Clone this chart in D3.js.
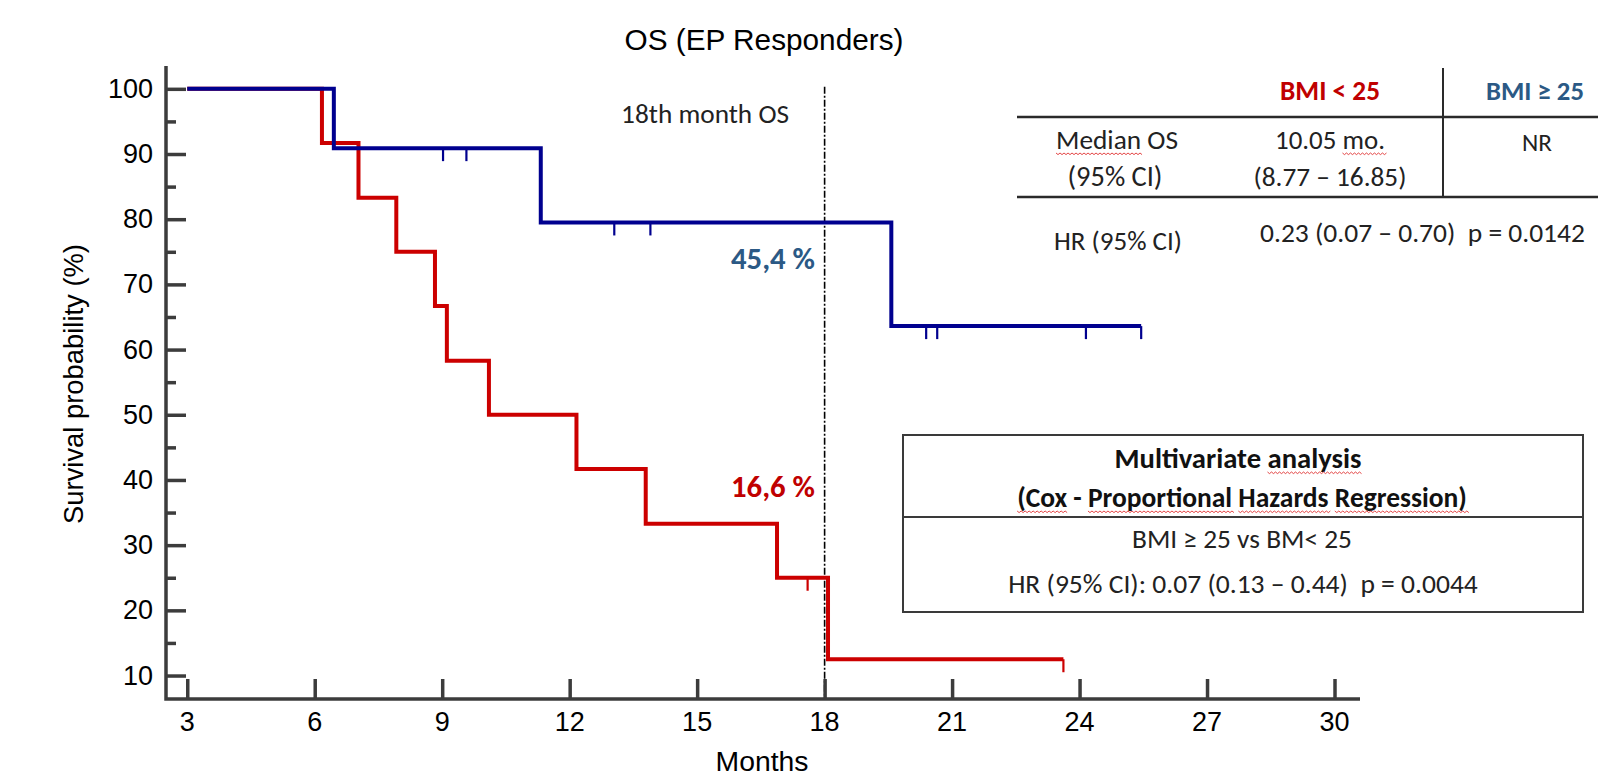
<!DOCTYPE html>
<html>
<head>
<meta charset="utf-8">
<script src="https://cdn.jsdelivr.net/npm/d3@7"></script>
<style>
  body { margin: 0; background: #fff; }
  text { white-space: pre; }
  .axis-font { font-family: "Liberation Sans", Arial, sans-serif; }
  .cal { font-family: Carlito, Lato, "Open Sans", sans-serif; }
</style>
</head>
<body>
<div id="chart"></div>
<script>
// Kaplan-Meier steps (month, survival %)
var lowMonths  = [3, 6.17, 7.03, 7.92, 8.83, 9.11, 10.1, 12.16, 13.79, 16.88, 18.08, 23.62];
var lowSurv    = [100, 91.7, 83.3, 75, 66.7, 58.3, 50, 41.7, 33.3, 25, 12.5, 12.5];
var lowCensor  = [17.6, 23.62];

var highMonths = [3, 6.45, 11.32, 19.57, 25.45];
var highSurv   = [100, 90.9, 79.5, 63.6, 63.6];
var highCensor = [9.02, 9.57, 13.05, 13.9, 20.39, 20.65, 24.15, 25.45];

var xTicks = [3, 6, 9, 12, 15, 18, 21, 24, 27, 30];
var yTicks = [10, 20, 30, 40, 50, 60, 70, 80, 90, 100];
var yMinor = [15, 25, 35, 45, 55, 65, 75, 85, 95];

var w = 1598, h = 778;
var red = "#cc0000", navy = "#00008f";
var axisCol = "#3c3c3c";

var svg = d3.select("#chart").append("svg")
    .attr("width", w)
    .attr("height", h);

var x = d3.scaleLinear().domain([2.5, 30.6]).range([166, 1360]);
var y = d3.scaleLinear().domain([6.4, 103.5]).range([699, 66]);

// scale a text's font so it spans the given width
function fit(sel, target) {
    var len = sel.node().getComputedTextLength();
    sel.attr("font-size", +sel.attr("font-size") * target / len);
    return sel;
}

// title
fit(svg.append("text")
    .attr("class", "axis-font")
    .attr("x", 764).attr("y", 50)
    .attr("text-anchor", "middle")
    .attr("font-size", 28)
    .text("OS (EP Responders)"), 279);

// 18th month reference line
svg.append("line")
    .attr("x1", x(18)).attr("x2", x(18))
    .attr("y1", y(100.3)).attr("y2", y(6.4))
    .attr("stroke", "#000")
    .attr("stroke-width", 1.6)
    .attr("stroke-dasharray", "7,2,2,2");

fit(svg.append("text")
    .attr("class", "cal")
    .attr("x", 789).attr("y", 123)
    .attr("text-anchor", "end")
    .attr("font-size", 26)
    .attr("fill", "#222")
    .text("18th month OS"), 168);

// curves
var stepLine = d3.line()
    .x(function(d) { return x(d[0]); })
    .y(function(d) { return y(d[1]); })
    .curve(d3.curveStepAfter);

function survAt(months, surv, t) {
    var i = d3.bisectRight(months, t) - 1;
    return surv[Math.max(0, i)];
}

function drawCurve(months, surv, censor, color) {
    svg.append("path")
        .datum(d3.zip(months, surv))
        .attr("d", stepLine)
        .attr("fill", "none")
        .attr("stroke", color)
        .attr("stroke-width", 4);

    svg.append("g").selectAll("line")
        .data(censor)
        .enter()
        .append("line")
        .attr("x1", function(d) { return x(d); })
        .attr("x2", function(d) { return x(d); })
        .attr("y1", function(d) { return y(survAt(months, surv, d)); })
        .attr("y2", function(d) { return y(survAt(months, surv, d)) + 13; })
        .attr("stroke", color)
        .attr("stroke-width", 2.2);
}

drawCurve(lowMonths, lowSurv, lowCensor, red);
drawCurve(highMonths, highSurv, highCensor, navy);

// axes
var yAxis = svg.append("g")
    .attr("transform", "translate(" + x(2.5) + ",0)")
    .call(d3.axisRight(y).tickValues(yTicks).tickSize(20).tickFormat(""));
var yMinorAxis = svg.append("g")
    .attr("transform", "translate(" + x(2.5) + ",0)")
    .call(d3.axisRight(y).tickValues(yMinor).tickSize(10).tickFormat(""));
var xAxis = svg.append("g")
    .attr("transform", "translate(0," + y(6.4) + ")")
    .call(d3.axisTop(x).tickValues(xTicks).tickSize(20).tickFormat(""));

[yAxis, yMinorAxis, xAxis].forEach(function(g) {
    g.selectAll(".domain").remove();
    g.selectAll(".tick line").attr("stroke", axisCol).attr("stroke-width", 3.5);
});

svg.append("path")
    .attr("d", "M" + x(2.5) + "," + y(103.5) + "V" + y(6.4) + "H" + x(30.6))
    .attr("fill", "none")
    .attr("stroke", axisCol)
    .attr("stroke-width", 3.5);

// tick labels
svg.append("g").selectAll("text")
    .data(yTicks)
    .enter()
    .append("text")
    .attr("class", "axis-font")
    .attr("x", 153)
    .attr("y", function(d) { return y(d); })
    .attr("text-anchor", "end")
    .attr("dominant-baseline", "central")
    .attr("font-size", 27)
    .text(function(d) { return d; });

svg.append("g").selectAll("text")
    .data(xTicks)
    .enter()
    .append("text")
    .attr("class", "axis-font")
    .attr("x", function(d) { return x(d); })
    .attr("y", 722)
    .attr("text-anchor", "middle")
    .attr("dominant-baseline", "central")
    .attr("font-size", 27)
    .text(function(d) { return d; });

fit(svg.append("text")
    .attr("class", "axis-font")
    .attr("x", 762).attr("y", 771)
    .attr("text-anchor", "middle")
    .attr("font-size", 28)
    .text("Months"), 93);

fit(svg.append("text")
    .attr("class", "axis-font")
    .attr("transform", "translate(73,384) rotate(-90)")
    .attr("text-anchor", "middle")
    .attr("dominant-baseline", "central")
    .attr("font-size", 28)
    .text("Survival probability (%)"), 280);

// 18-month survival labels
fit(svg.append("text")
    .attr("class", "cal")
    .attr("x", 815).attr("y", 258)
    .attr("text-anchor", "end")
    .attr("dominant-baseline", "central")
    .attr("font-size", 28).attr("font-weight", "bold")
    .attr("fill", "#2b5985")
    .text("45,4 %"), 84);

fit(svg.append("text")
    .attr("class", "cal")
    .attr("x", 815).attr("y", 486)
    .attr("text-anchor", "end")
    .attr("dominant-baseline", "central")
    .attr("font-size", 28).attr("font-weight", "bold")
    .attr("fill", "#c00000")
    .text("16,6 %"), 84);

// spell-check squiggle under part of a text
function squiggle(textSel, sub) {
    var node = textSel.node();
    var full = node.textContent;
    var i = full.indexOf(sub);
    if (i < 0) return;
    var start = node.getStartPositionOfChar(i).x;
    var end = node.getEndPositionOfChar(i + sub.length - 1).x;
    var yy = +textSel.attr("y") + 4;
    var p = "M" + start + "," + yy;
    for (var xx = start, k = 0; xx < end; xx += 2, k++) {
        p += "L" + (xx + 2) + "," + (yy + (k % 2 ? 0 : 1.6));
    }
    svg.append("path").attr("d", p).attr("fill", "none")
        .attr("stroke", "#e03030").attr("stroke-width", 0.9);
}

function cell(tx, ty, str, width, opts) {
    opts = opts || {};
    var t = svg.append("text")
        .attr("class", "cal")
        .attr("x", tx).attr("y", ty)
        .attr("text-anchor", opts.anchor || "middle")
        .attr("font-size", 26)
        .attr("font-weight", opts.bold ? "bold" : null)
        .attr("fill", opts.fill || "#222")
        .text(str);
    return fit(t, width);
}

// median OS table
var tbl = svg.append("g").attr("stroke", "#2a2a2a");
tbl.append("line").attr("x1", 1443).attr("x2", 1443).attr("y1", 68).attr("y2", 197).attr("stroke-width", 2);
tbl.append("line").attr("x1", 1017).attr("x2", 1598).attr("y1", 117).attr("y2", 117).attr("stroke-width", 2.5);
tbl.append("line").attr("x1", 1017).attr("x2", 1598).attr("y1", 197).attr("y2", 197).attr("stroke-width", 2.5);

cell(1330, 100, "BMI < 25", 100, { bold: true, fill: "#c00000" });
cell(1535, 100, "BMI \u2265 25", 98, { bold: true, fill: "#2b5985" });
var med = cell(1117, 149, "Median OS", 122);
squiggle(med, "Median");
cell(1115, 186, "(95% CI)", 95);
var mo = cell(1330, 149, "10.05 mo.", 110);
squiggle(mo, "mo.");
cell(1330, 186, "(8.77 \u2013 16.85)", 153);
cell(1537, 151, "NR", 30);
cell(1118, 250, "HR (95% CI)", 128);
cell(1260, 242, "0.23 (0.07 \u2013 0.70)  p = 0.0142", 325, { anchor: "start" });

// multivariate box
svg.append("rect")
    .attr("x", 903).attr("y", 435)
    .attr("width", 680).attr("height", 177)
    .attr("fill", "#fff")
    .attr("stroke", "#3a3a3a").attr("stroke-width", 2);
svg.append("line")
    .attr("x1", 903).attr("x2", 1583).attr("y1", 517).attr("y2", 517)
    .attr("stroke", "#3a3a3a").attr("stroke-width", 2);

var m1 = cell(1238, 468, "Multivariate analysis", 247, { bold: true, fill: "#111" });
squiggle(m1, "analysis");
var m2 = cell(1242, 507, "(Cox - Proportional Hazards Regression)", 450, { bold: true, fill: "#111" });
squiggle(m2, "(Cox");
squiggle(m2, "Proportional");
squiggle(m2, "Hazards");
squiggle(m2, "Regression)");
cell(1242, 548, "BMI \u2265 25 vs BM< 25", 220);
cell(1243, 593, "HR (95% CI): 0.07 (0.13 \u2013 0.44)  p = 0.0044", 470);
</script>
</body>
</html>
